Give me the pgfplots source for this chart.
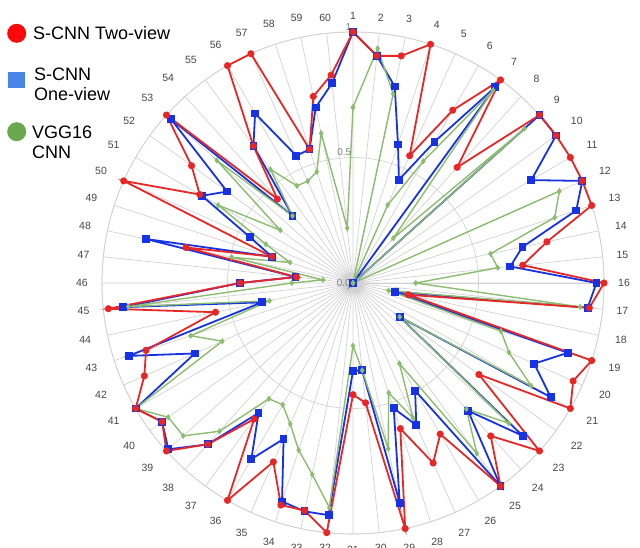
\documentclass[border=0pt]{standalone}
\usepackage{fontspec}
\setmainfont{Liberation Sans}
\usepackage{pgfplots}
\usepgfplotslibrary{polar}
\usepackage{pgfplotstable}
\pgfplotsset{compat=1.18}

\definecolor{cred}{RGB}{232,38,38}
\definecolor{cblue}{RGB}{22,50,228}
\definecolor{cgreen}{RGB}{140,188,110}
\definecolor{lred}{RGB}{250,10,10}
\definecolor{lblue}{RGB}{74,134,232}
\definecolor{lgreen}{RGB}{106,168,79}
\definecolor{gridc}{RGB}{210,210,210}
\definecolor{labc}{RGB}{70,70,70}

\pgfplotstableread{
idx red blue green
1 1.0 1.0 0.70
2 0.91 0.91 0.94
3 0.925 0.80 0.77
4 1.0 0.58 0.0
5 0.555 0.45 0.34
6 0.795 0.65 0.56
7 1.0 0.965 0.95
8 0.62 0.0 0.24
9 1.0 1.0 0.92
10 1.0 1.0 0.0
11 1.0 0.82 0.0
12 1.0 1.0 0.90
13 1.0 0.935 0.845
14 0.79 0.69 0.56
15 0.68 0.63 0.58
16 1.0 0.97 0.25
17 0.947 0.94 0.91
18 0.225 0.17 0.145
19 1.0 0.90 0.62
20 0.96 0.79 0.68
21 1.0 0.91 0.82
22 0.62 0.23 0.23
23 1.0 0.91 0.835
24 0.82 0.685 0.675
25 1.0 1.0 0.84
26 0.695 0.495 0.37
27 0.785 0.62 0.59
28 0.61 0.525 0.46
29 1.0 0.895 0.675
30 0.48 0.35 0.35
31 0.445 0.35 0.25
32 1.0 0.93 0.90
33 0.927 0.93 0.78
34 0.93 0.915 0.70
35 0.78 0.68 0.615
36 1.0 0.81 0.56
37 0.67 0.64 0.57
38 0.865 0.865 0.795
39 1.0 0.99 0.91
40 0.94 0.94 0.91
41 1.0 1.0 1.0
42 0.91 0.69 0.57
43 0.867 0.94 0.68
44 0.56 0.37 0.34
45 0.98 0.92 0.90
46 0.45 0.45 0.244
47 0.226 0.23 0.12
48 0.68 0.843 0.494
49 0.34 0.34 0.264
50 1.0 0.45 0.38
51 0.705 0.695 0.62
52 0.795 0.62 0.358
53 1.0 0.975 0.73
54 0.45 0.36 0.36
55 0.675 0.675 0.56
56 1.0 0.78 0.447
57 1.0 0.555 0.444
58 0.56 0.56 0.466
59 0.76 0.715 0.61
60 0.833 0.80 0.22
61 1.0 1.0 0.70
}\data

\begin{document}
\begin{tikzpicture}
\path[use as bounding box] (0pt,0pt) rectangle (640pt,547pt);
\clip (0pt,0pt) rectangle (640pt,547pt);
\begin{polaraxis}[
  at={(353pt,264pt)}, anchor=center,
  scale only axis, width=502pt, height=502pt,
  xmin=0, xmax=360, ymin=0, ymax=1,
  xtick={0,6,...,354},
  xticklabels={16,15,14,13,12,11,10,9,8,7,6,5,4,3,2,1,60,59,58,57,56,55,54,53,52,51,50,49,48,47,46,45,44,43,42,41,40,39,38,37,36,35,34,33,32,31,30,29,28,27,26,25,24,23,22,21,20,19,18,17},
  ytick={0,0.5,1}, yticklabels={},
  grid=major,
  major grid style={draw=gridc, line width=0.7pt},
  axis line style={draw=gridc, line width=0.7pt},
  major tick length=0pt,
  xticklabel style={font=\fontsize{10.5}{12}\selectfont, text=labc, inner xsep=14pt, inner ysep=12pt},
  clip=false,
]
\addplot[cblue, line width=1.8pt, mark=square*, mark size=3pt, mark options={fill=cblue}]
  table[x expr={mod(450-6*(\thisrow{idx}-1),360)}, y=blue] {\data};
\addplot[cgreen, line width=1.4pt, mark=diamond*, mark size=2pt]
  table[x expr={mod(450-6*(\thisrow{idx}-1),360)}, y=green] {\data};
\addplot[cred, line width=1.8pt, mark=*, mark size=2.6pt]
  table[x expr={mod(450-6*(\thisrow{idx}-1),360)}, y=red] {\data};

\node[anchor=south east, inner sep=1.5pt, font=\fontsize{10}{12}\selectfont, text=gray] at (axis cs:90,0.5) {0.5};
\node[anchor=south east, inner sep=1.5pt, font=\fontsize{10}{12}\selectfont, text=gray] at (axis cs:90,1) {1};
\node[anchor=east, inner sep=2pt, font=\fontsize{10}{12}\selectfont, text=gray] at (axis cs:0,0) {0.0};
\end{polaraxis}
% legend
\fill[lred] (16.7pt,513.7pt) circle (9.5pt);
\node[anchor=west, inner sep=0pt, font=\fontsize{18}{20}\selectfont] at (33pt,513.7pt) {S-CNN Two-view};
\fill[lblue] (8.4pt,458.7pt) rectangle (25pt,475.3pt);
\node[anchor=west, inner sep=0pt, align=left, font=\fontsize{18}{20}\selectfont] at (34pt,463pt) {S-CNN\\One-view};
\fill[lgreen] (16.7pt,415.3pt) circle (9.5pt);
\node[anchor=west, inner sep=0pt, align=left, font=\fontsize{18}{20}\selectfont] at (32pt,405pt) {VGG16\\CNN};
\end{tikzpicture}
\end{document}
